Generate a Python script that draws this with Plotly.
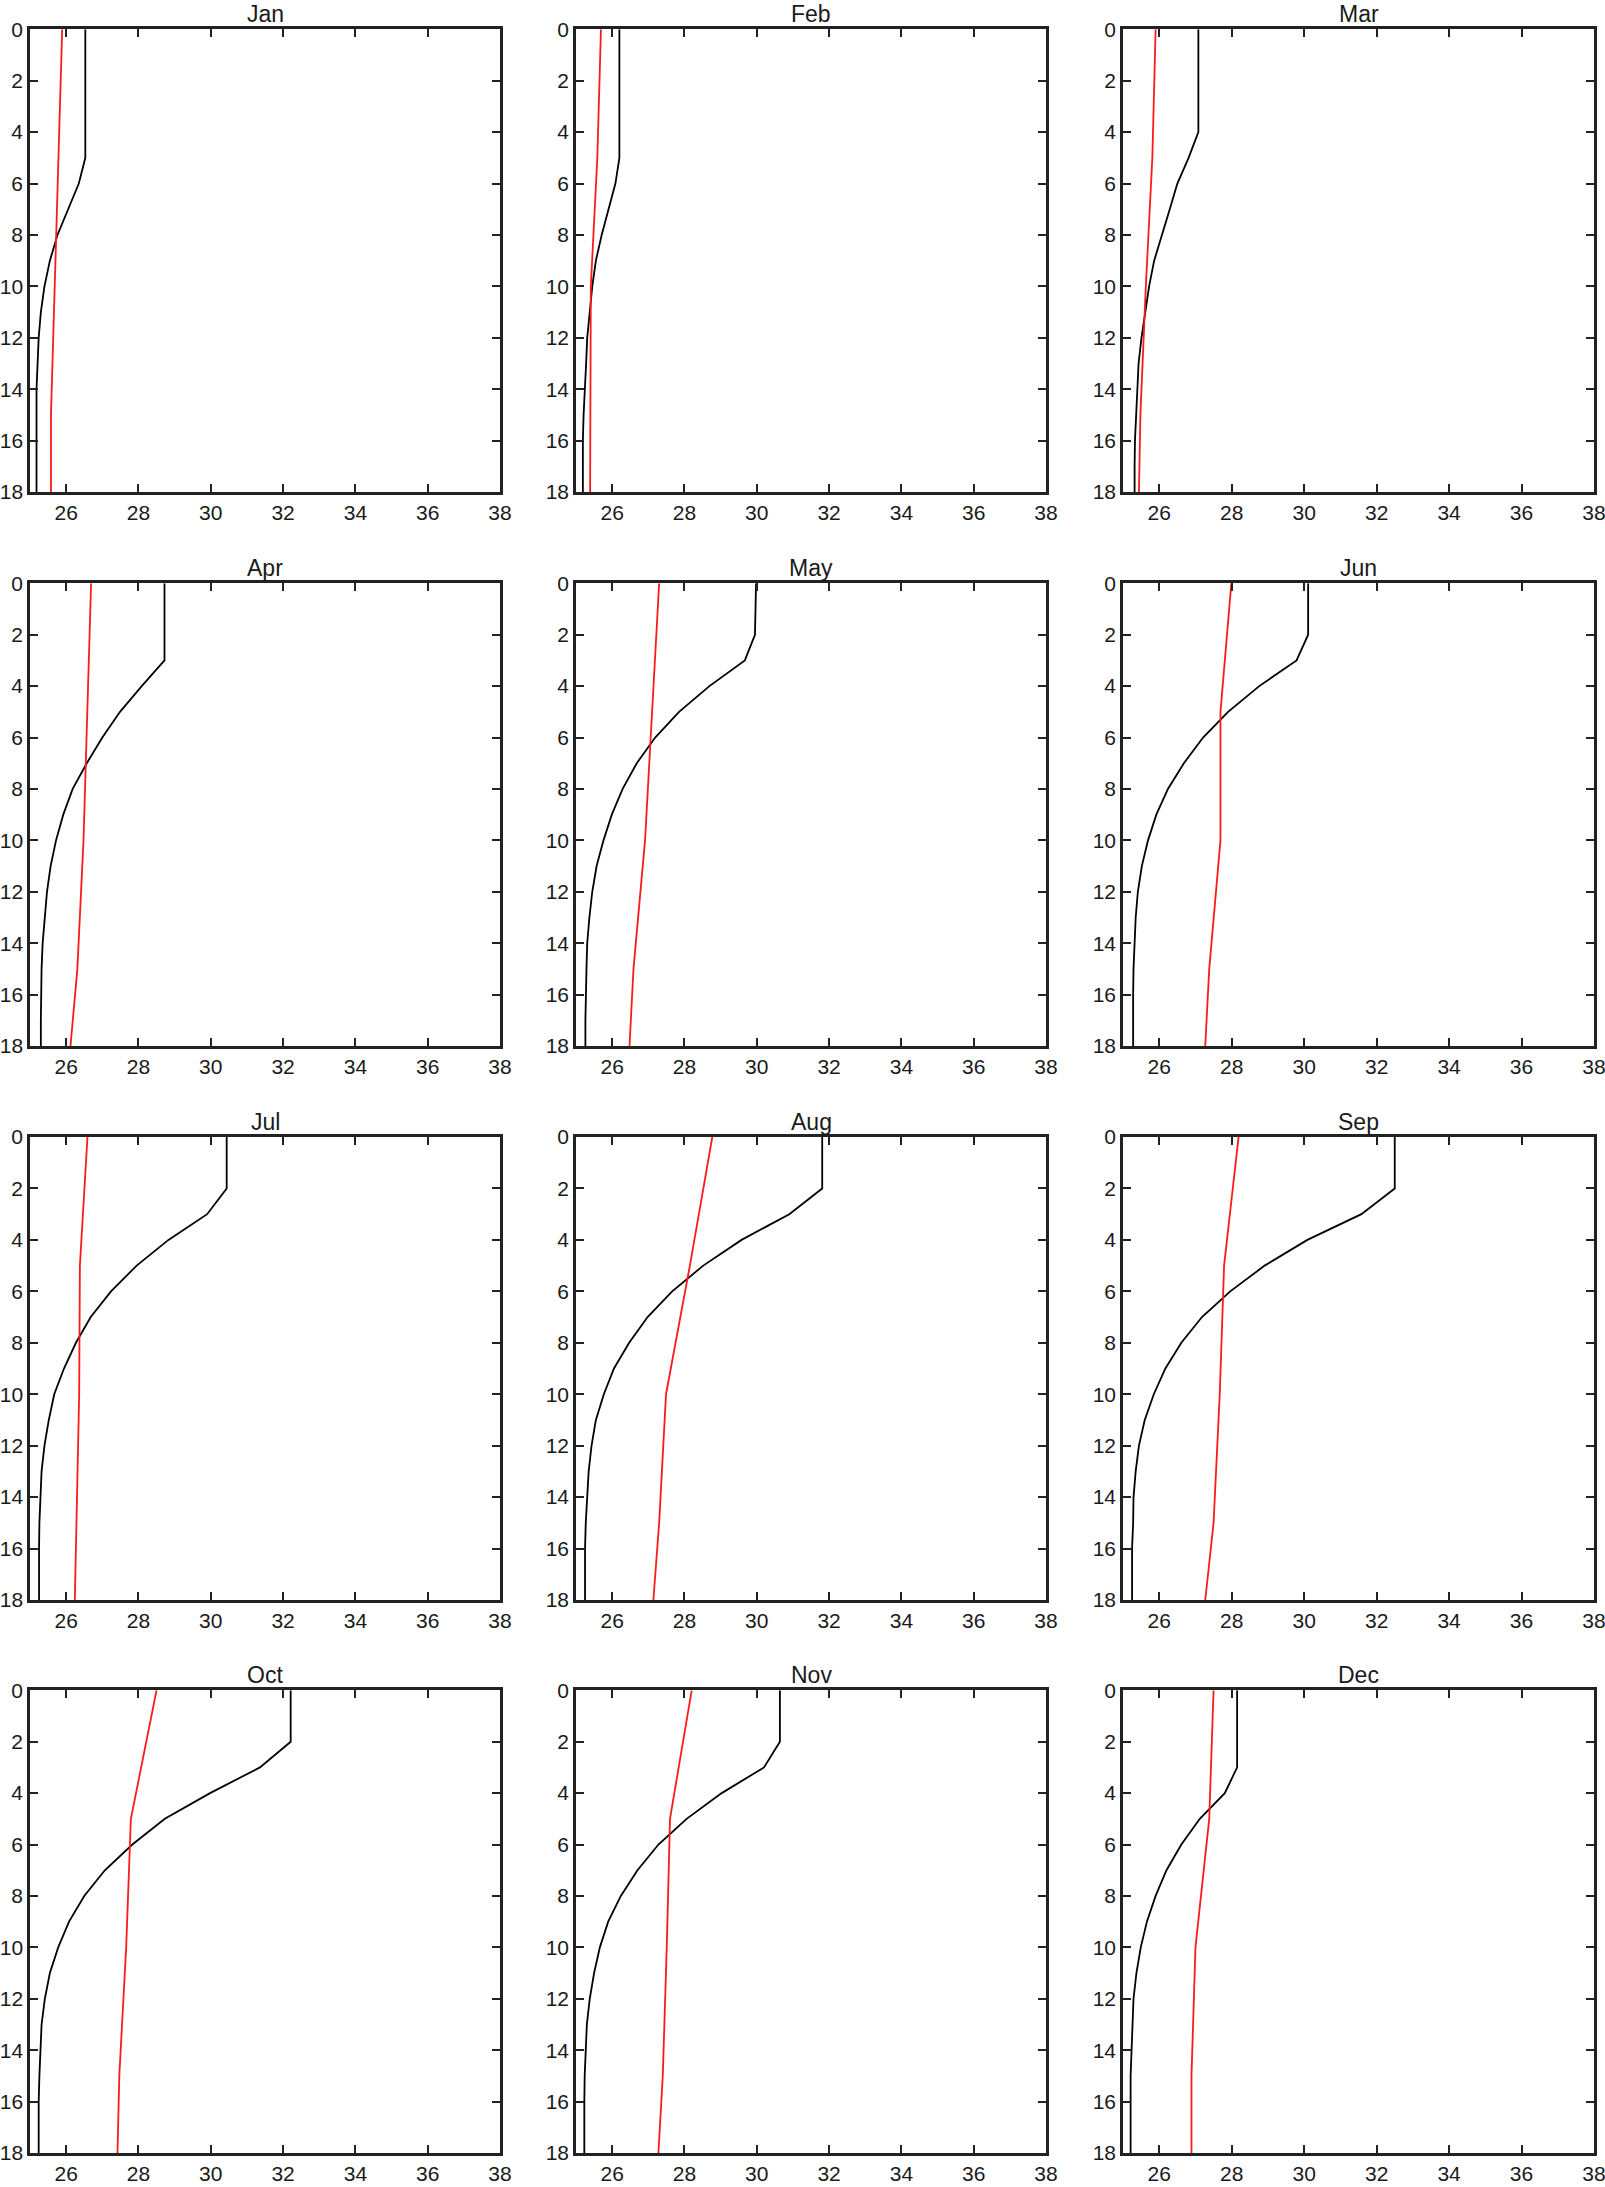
import plotly.graph_objects as go

months = ["Jan", "Feb", "Mar", "Apr", "May", "Jun",
          "Jul", "Aug", "Sep", "Oct", "Nov", "Dec"]

x_ticks = [26, 28, 30, 32, 34, 36, 38]
y_ticks = [0, 2, 4, 6, 8, 10, 12, 14, 16, 18]

depth_black = list(range(19))
depth_red = [0, 5, 10, 15, 18]

jan_black = [26.53, 26.53, 26.53, 26.53, 26.53, 26.53, 26.35, 26.06, 25.76, 25.55,
             25.40, 25.30, 25.24, 25.21, 25.18, 25.18, 25.18, 25.18, 25.18]
feb_black = [26.20, 26.20, 26.20, 26.20, 26.20, 26.20, 26.09, 25.89, 25.71, 25.55,
             25.45, 25.38, 25.31, 25.28, 25.24, 25.21, 25.19, 25.19, 25.19]
mar_black = [27.08, 27.08, 27.08, 27.08, 27.08, 26.81, 26.50, 26.29, 26.08, 25.86,
             25.72, 25.61, 25.51, 25.43, 25.39, 25.35, 25.33, 25.32, 25.32]
apr_black = [28.72, 28.72, 28.72, 28.72, 28.09, 27.49, 27.00, 26.57, 26.18, 25.92,
             25.72, 25.57, 25.47, 25.40, 25.35, 25.32, 25.30, 25.30, 25.30]
may_black = [29.98, 29.97, 29.95, 29.67, 28.69, 27.85, 27.19, 26.68, 26.29, 25.99,
             25.76, 25.57, 25.45, 25.37, 25.31, 25.29, 25.27, 25.26, 25.26]
jun_black = [30.11, 30.11, 30.11, 29.79, 28.76, 27.90, 27.21, 26.68, 26.24, 25.92,
             25.69, 25.52, 25.41, 25.35, 25.31, 25.29, 25.28, 25.28, 25.28]
jul_black = [30.44, 30.44, 30.44, 29.90, 28.83, 27.95, 27.24, 26.68, 26.27, 25.94,
             25.67, 25.52, 25.40, 25.32, 25.28, 25.26, 25.25, 25.25, 25.25]
aug_black = [31.81, 31.81, 31.81, 30.90, 29.58, 28.52, 27.66, 26.98, 26.47, 26.05,
             25.77, 25.55, 25.43, 25.35, 25.30, 25.27, 25.25, 25.25, 25.25]
sep_black = [32.50, 32.50, 32.50, 31.58, 30.09, 28.91, 27.96, 27.18, 26.61, 26.17,
             25.85, 25.60, 25.44, 25.35, 25.29, 25.28, 25.25, 25.25, 25.25]
oct_black = [32.21, 32.21, 32.21, 31.36, 29.98, 28.73, 27.83, 27.07, 26.50, 26.08,
             25.78, 25.55, 25.41, 25.32, 25.28, 25.26, 25.24, 25.24, 25.24]
nov_black = [30.64, 30.64, 30.64, 30.20, 29.03, 28.06, 27.28, 26.70, 26.24, 25.89,
             25.66, 25.50, 25.38, 25.30, 25.26, 25.24, 25.23, 25.23, 25.23]
dec_black = [28.15, 28.15, 28.15, 28.15, 27.81, 27.12, 26.61, 26.20, 25.90, 25.66,
             25.49, 25.37, 25.29, 25.26, 25.22, 25.21, 25.21, 25.21, 25.21]

jan_red = [25.89, 25.79, 25.69, 25.58, 25.58]
feb_red = [25.69, 25.59, 25.41, 25.39, 25.39]
mar_red = [25.90, 25.81, 25.63, 25.48, 25.44]
apr_red = [26.69, 26.59, 26.48, 26.31, 26.12]
may_red = [27.30, 27.11, 26.91, 26.59, 26.48]
jun_red = [27.99, 27.69, 27.69, 27.38, 27.27]
jul_red = [26.59, 26.38, 26.36, 26.29, 26.24]
aug_red = [28.77, 28.15, 27.49, 27.30, 27.14]
sep_red = [28.19, 27.79, 27.67, 27.50, 27.27]
oct_red = [28.50, 27.79, 27.66, 27.47, 27.42]
nov_red = [28.20, 27.60, 27.51, 27.40, 27.28]
dec_red = [27.50, 27.38, 27.00, 26.89, 26.89]

black_series = [jan_black, feb_black, mar_black, apr_black, may_black, jun_black,
                jul_black, aug_black, sep_black, oct_black, nov_black, dec_black]
red_series = [jan_red, feb_red, mar_red, apr_red, may_red, jun_red,
              jul_red, aug_red, sep_red, oct_red, nov_red, dec_red]

W, H = 1605, 2187
col_px = [(30, 500), (576, 1046), (1123, 1594)]
row_px = [(29.3, 492), (583.3, 1046), (1137, 1600), (1690.3, 2153)]

FONT = "Liberation Sans, Arial, Helvetica, sans-serif"

fig = go.Figure()
layout = dict(
    template="none",
    width=W, height=H,
    margin=dict(l=0, r=0, t=0, b=0, autoexpand=False),
    paper_bgcolor="white", plot_bgcolor="white",
    showlegend=False,
    font=dict(family=FONT, size=21, color="#1a1a1a"),
)
annotations = []

axis_common = dict(
    showgrid=False, zeroline=False, showline=True, linewidth=2.5,
    linecolor="#222222", mirror="ticks", ticks="inside", ticklen=8,
    tickwidth=1.6, tickcolor="#222222", automargin=False,
    ticklabeloverflow="allow",
    tickfont=dict(family=FONT, size=21, color="#1a1a1a"),
)

for i, m in enumerate(months):
    r, c = divmod(i, 3)
    n = i + 1
    xa = "x" if n == 1 else f"x{n}"
    ya = "y" if n == 1 else f"y{n}"
    x0, x1 = col_px[c]
    y0, y1 = row_px[r]
    layout["xaxis" if n == 1 else f"xaxis{n}"] = dict(
        axis_common, domain=[x0 / W, x1 / W], range=[25, 38],
        tickvals=x_ticks, anchor=ya)
    layout["yaxis" if n == 1 else f"yaxis{n}"] = dict(
        axis_common, domain=[1 - y1 / H, 1 - y0 / H], range=[18, 0],
        tickvals=y_ticks, anchor=xa)
    fig.add_trace(go.Scatter(x=black_series[i], y=depth_black, mode="lines",
                             line=dict(color="black", width=1.8),
                             xaxis=xa, yaxis=ya))
    fig.add_trace(go.Scatter(x=red_series[i], y=depth_red, mode="lines",
                             line=dict(color="#ff1a1a", width=1.8),
                             xaxis=xa, yaxis=ya))
    annotations.append(dict(
        text=m, xref="paper", yref="paper",
        x=(x0 + x1) / 2 / W, y=1 - y0 / H,
        xanchor="center", yanchor="bottom", yshift=1, borderpad=0,
        showarrow=False,
        font=dict(family=FONT, size=23, color="#1a1a1a"),
    ))

layout["annotations"] = annotations
fig.update_layout(**layout)
fig.write_html(
    "out.html",
    config={"displayModeBar": False},
    post_script="document.body.style.margin='0';document.body.style.overflow='hidden';",
)
